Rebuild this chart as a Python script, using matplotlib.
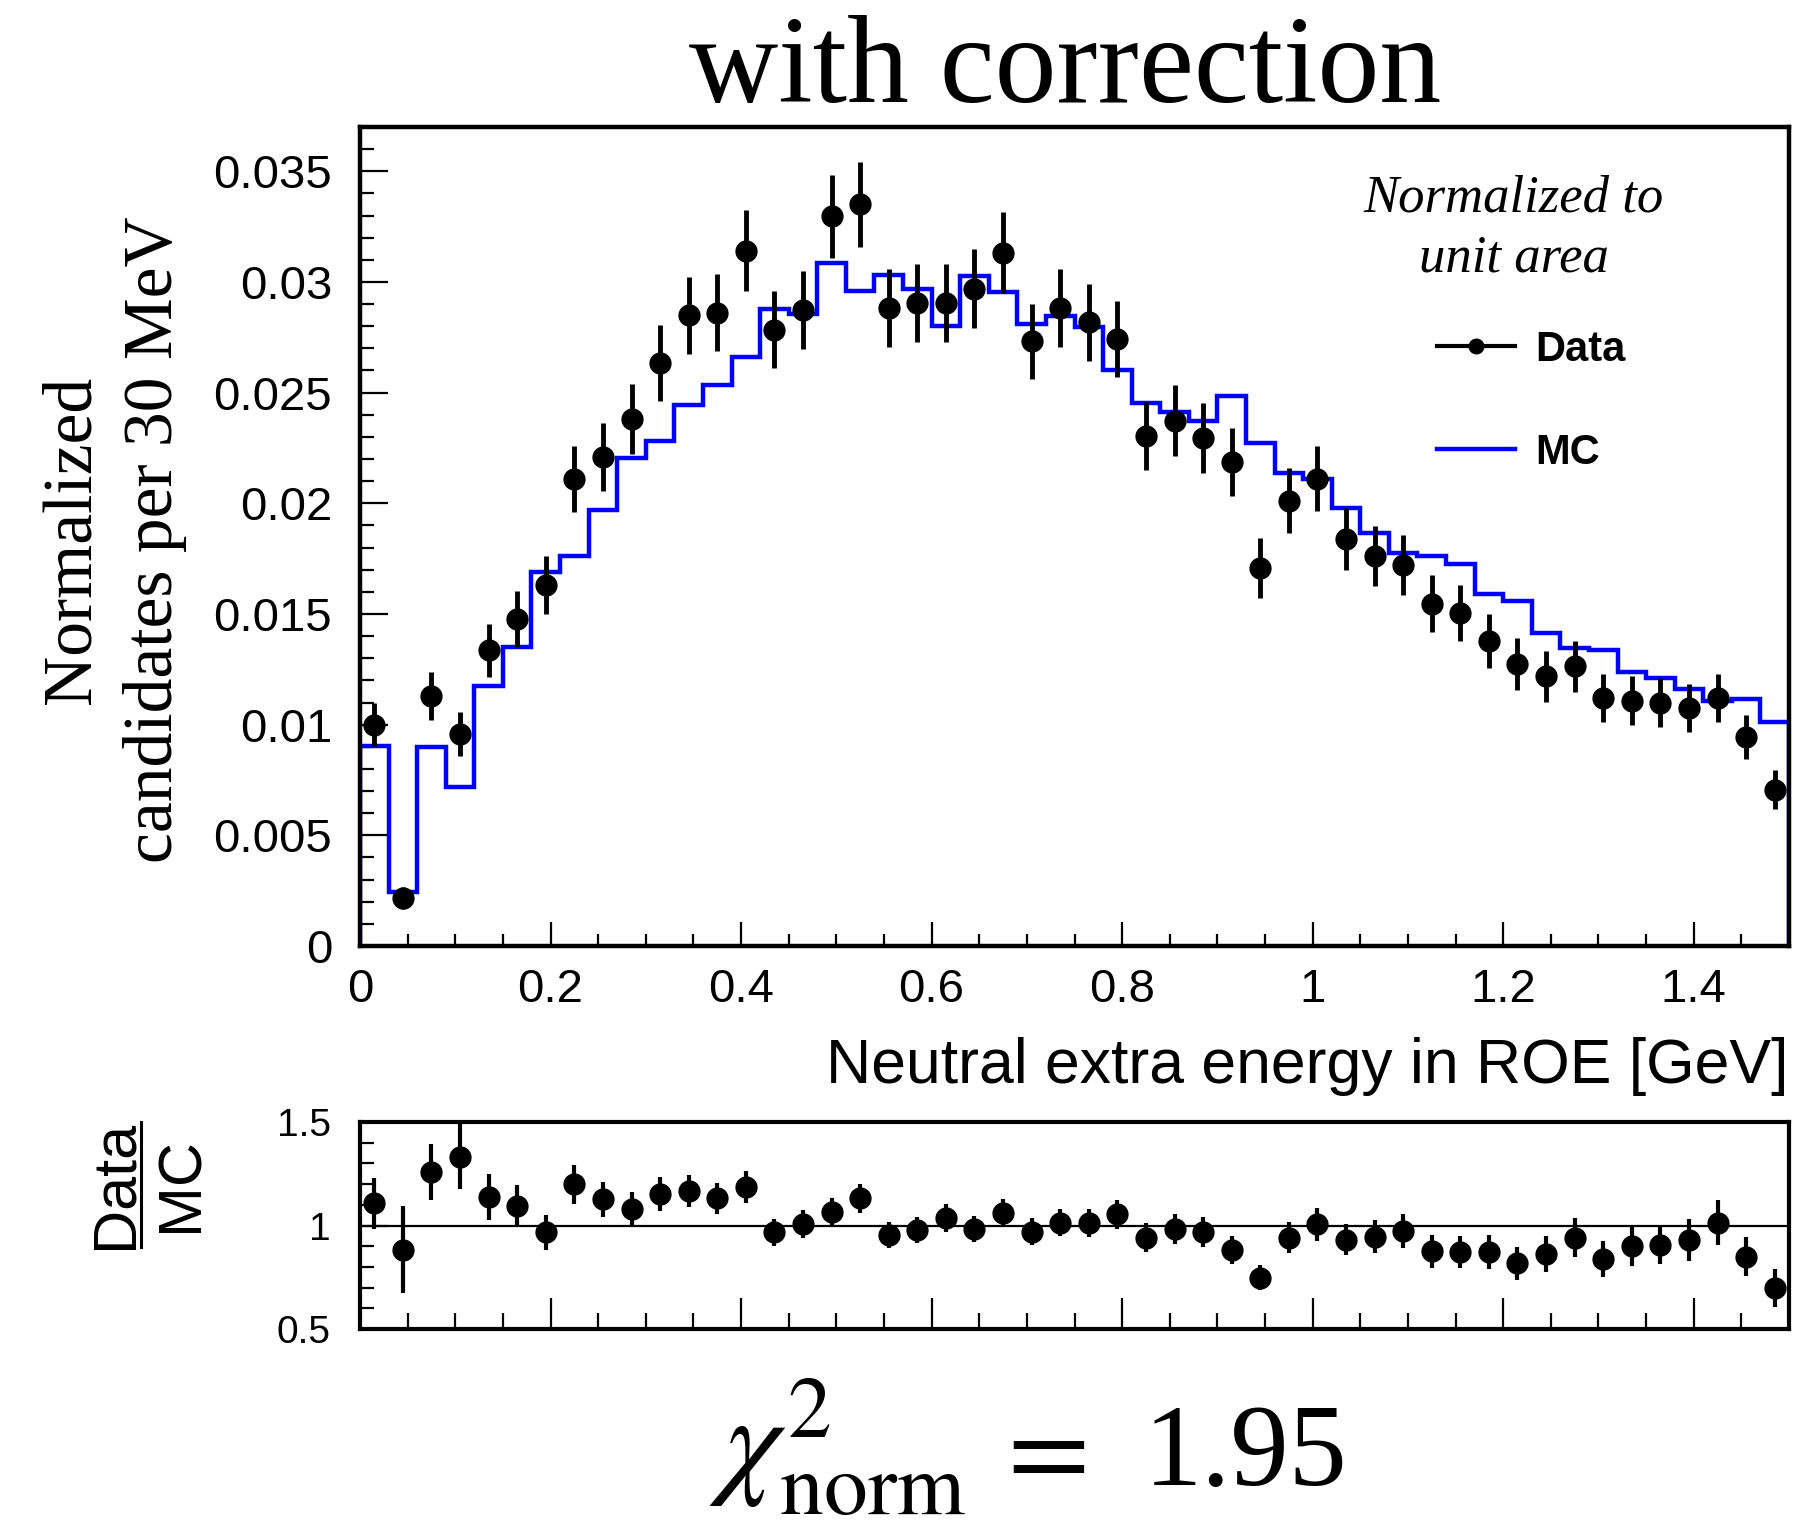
import numpy as np
import matplotlib
matplotlib.use("Agg")
import matplotlib.pyplot as plt
from matplotlib.ticker import MultipleLocator, FuncFormatter, FixedLocator
from matplotlib.lines import Line2D

# ---------------- data ----------------
bin_low = 0.0
bin_width = 0.03
n_bins = 50

data_vals = [0.01000, 0.00215, 0.01131, 0.00957, 0.01336, 0.01478, 0.01632, 0.02110, 0.02208, 0.02381,
             0.02633, 0.02849, 0.02861, 0.03142, 0.02785, 0.02873, 0.03297, 0.03350, 0.02883, 0.02905,
             0.02905, 0.02969, 0.03133, 0.02731, 0.02883, 0.02817, 0.02741, 0.02305, 0.02374, 0.02296,
             0.02186, 0.01708, 0.02012, 0.02112, 0.01838, 0.01762, 0.01721, 0.01547, 0.01503, 0.01380,
             0.01273, 0.01219, 0.01263, 0.01121, 0.01109, 0.01099, 0.01077, 0.01121, 0.00945, 0.00705]

data_errs = [0.00098, 0.00050, 0.00108, 0.00100, 0.00120, 0.00125, 0.00132, 0.00149, 0.00154, 0.00159,
             0.00171, 0.00174, 0.00174, 0.00184, 0.00174, 0.00176, 0.00188, 0.00191, 0.00176, 0.00176,
             0.00176, 0.00179, 0.00184, 0.00171, 0.00176, 0.00174, 0.00171, 0.00154, 0.00159, 0.00157,
             0.00152, 0.00135, 0.00147, 0.00149, 0.00140, 0.00137, 0.00135, 0.00127, 0.00127, 0.00122,
             0.00117, 0.00115, 0.00117, 0.00110, 0.00110, 0.00110, 0.00108, 0.00110, 0.00100, 0.00088]

mc_vals = [0.00903, 0.00242, 0.00898, 0.00720, 0.01175, 0.01351, 0.01691, 0.01762, 0.01968, 0.02205,
           0.02283, 0.02445, 0.02533, 0.02660, 0.02876, 0.02856, 0.03084, 0.02961, 0.03030, 0.02969,
           0.02802, 0.03025, 0.02956, 0.02812, 0.02846, 0.02795, 0.02604, 0.02455, 0.02411, 0.02372,
           0.02484, 0.02271, 0.02137, 0.02110, 0.01978, 0.01867, 0.01774, 0.01762, 0.01725, 0.01588,
           0.01559, 0.01415, 0.01346, 0.01336, 0.01236, 0.01211, 0.01163, 0.01106, 0.01118, 0.01013]

ratio_vals = [1.108, 0.884, 1.260, 1.333, 1.137, 1.095, 0.967, 1.199, 1.126, 1.078,
              1.152, 1.168, 1.131, 1.185, 0.967, 1.007, 1.065, 1.131, 0.953, 0.979,
              1.038, 0.982, 1.059, 0.969, 1.013, 1.013, 1.054, 0.941, 0.985, 0.969,
              0.882, 0.748, 0.941, 1.005, 0.931, 0.946, 0.974, 0.876, 0.871, 0.871,
              0.817, 0.863, 0.941, 0.840, 0.900, 0.908, 0.930, 1.013, 0.850, 0.698]

ratio_errs = [0.123, 0.212, 0.135, 0.158, 0.111, 0.100, 0.083, 0.095, 0.086, 0.082,
              0.080, 0.078, 0.075, 0.076, 0.065, 0.066, 0.068, 0.070, 0.062, 0.064,
              0.068, 0.062, 0.067, 0.065, 0.065, 0.067, 0.071, 0.069, 0.072, 0.072,
              0.067, 0.062, 0.074, 0.078, 0.075, 0.079, 0.083, 0.079, 0.078, 0.082,
              0.079, 0.087, 0.094, 0.087, 0.095, 0.095, 0.101, 0.108, 0.096, 0.090]

x_major_ticks = [0.0, 0.2, 0.4, 0.6, 0.8, 1.0, 1.2, 1.4]
y_major_ticks = [0.0, 0.005, 0.01, 0.015, 0.02, 0.025, 0.03, 0.035]
ratio_major_ticks = [0.5, 1.0, 1.5]

title_text = "with correction"
xlabel_text = "Neutral extra energy in ROE [GeV]"
ylabel_text = "Normalized\ncandidates per 30 MeV"
norm_text = ["Normalized to", "unit area"]
chi2_symbol = r"$\chi^{2}_{\mathrm{norm}}$"
chi2_value = "1.95"

# ---------------- figure ----------------
W, H = 1813, 1523
fig = plt.figure(figsize=(W / 100, H / 100), dpi=100)

SANS = "Liberation Sans"
SERIF = "Liberation Serif"

def fx(px):
    return px / W

def fy(py):
    return 1 - py / H

ax = fig.add_axes([fx(360), fy(946), (1789 - 360) / W, (946 - 127) / H])
axr = fig.add_axes([fx(360), fy(1329), (1789 - 360) / W, (1329 - 1122) / H])

edges = bin_low + bin_width * np.arange(n_bins + 1)
centers = edges[:-1] + bin_width / 2

# MC histogram
ax.stairs(mc_vals, edges, color="#0000ff", lw=3.2, baseline=0, zorder=2)
# Data
ax.errorbar(centers, data_vals, yerr=data_errs, fmt="o", color="black",
            ms=15, elinewidth=3.5, capsize=0, zorder=3)

ax.set_xlim(0, 1.5)
ax.set_ylim(0, 0.037)

fmt = FuncFormatter(lambda v, p: "%g" % round(v, 6))
ax.xaxis.set_major_locator(FixedLocator(x_major_ticks))
ax.xaxis.set_minor_locator(MultipleLocator(0.05))
ax.yaxis.set_major_locator(FixedLocator(y_major_ticks))
ax.yaxis.set_minor_locator(MultipleLocator(0.001))
ax.xaxis.set_major_formatter(fmt)
ax.yaxis.set_major_formatter(fmt)

ax.tick_params(which="both", direction="in", top=False, right=False, width=1.6)
ax.tick_params(axis="y", which="major", length=20, pad=20)
ax.tick_params(axis="y", which="minor", length=10)
ax.tick_params(axis="x", which="major", length=17.5, pad=16)
ax.tick_params(axis="x", which="minor", length=9)
for lab in ax.get_xticklabels() + ax.get_yticklabels():
    lab.set_fontfamily(SANS)
    lab.set_fontsize(34)
for sp in ax.spines.values():
    sp.set_linewidth(3.2)

# legend
handles = [Line2D([], [], color="black", marker="o", ms=10.5, lw=3.0),
           Line2D([], [], color="#0000ff", lw=3.2)]
leg = ax.legend(handles, ["Data", "MC"], loc="upper left",
                bbox_to_anchor=(fx(1437), fy(330)), bbox_transform=fig.transFigure,
                frameon=False, borderpad=0, borderaxespad=0,
                handlelength=1.87, handletextpad=0.48, labelspacing=1.51,
                prop={"family": SANS, "weight": "bold", "size": 30})

fig.text(fx(1514), fy(212), norm_text[0], ha="center", va="baseline",
         family=SERIF, style="italic", fontsize=38)
fig.text(fx(1514), fy(272), norm_text[1], ha="center", va="baseline",
         family=SERIF, style="italic", fontsize=38)

# ratio panel
axr.axhline(1.0, color="black", lw=1.6, zorder=1)
axr.errorbar(centers, ratio_vals, yerr=ratio_errs, fmt="o", color="black",
             ms=15, elinewidth=3.0, capsize=0, zorder=3)
axr.set_xlim(0, 1.5)
axr.set_ylim(0.5, 1.5)
axr.xaxis.set_major_locator(FixedLocator(x_major_ticks))
axr.xaxis.set_minor_locator(MultipleLocator(0.05))
axr.yaxis.set_major_locator(FixedLocator(ratio_major_ticks))
axr.yaxis.set_minor_locator(MultipleLocator(0.1))
axr.yaxis.set_major_formatter(fmt)
axr.tick_params(which="both", direction="in", top=False, right=False, width=1.6,
                labelbottom=False)
axr.tick_params(axis="x", which="major", length=22)
axr.tick_params(axis="x", which="minor", length=11.5)
axr.tick_params(axis="y", which="major", length=20, pad=21)
axr.tick_params(axis="y", which="minor", length=10)
for lab in axr.get_yticklabels():
    lab.set_fontfamily(SANS)
    lab.set_fontsize(28)
for sp in axr.spines.values():
    sp.set_linewidth(3.0)

# texts
fig.text(fx(1065), fy(102), title_text, ha="center", va="baseline",
         family=SERIF, fontsize=89)
fig.text(fx(1789), fy(1083), xlabel_text, ha="right", va="baseline",
         family=SANS, fontsize=45)
fig.text(fx(114), fy(540), ylabel_text, rotation=90, ha="center", va="center",
         family=SERIF, fontsize=50, linespacing=1.39)

fig.text(fx(116), fy(1184), "Data", rotation=90, ha="center", va="center",
         family=SANS, fontsize=44)
fig.text(fx(182), fy(1184), "MC", rotation=90, ha="center", va="center",
         family=SANS, fontsize=44)
fig.add_artist(Line2D([fx(141), fx(141)], [fy(1122), fy(1247)],
                      transform=fig.transFigure, color="black", lw=2.2))

# chi^2 annotation
fig.text(fx(709), fy(1482), chi2_symbol, ha="left", va="baseline",
         fontsize=90, math_fontfamily="stix")
fig.text(fx(1038), fy(1485), r"$=$", ha="center", va="baseline",
         fontsize=86, math_fontfamily="stix")
fig.text(fx(1144), fy(1485), chi2_value, ha="left", va="baseline",
         family=SERIF, fontsize=84)

fig.savefig("out.png", dpi=100)
